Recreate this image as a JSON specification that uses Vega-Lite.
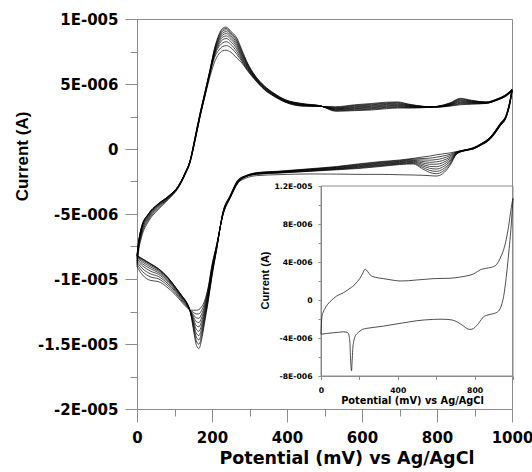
{
"$schema":"https://vega.github.io/schema/vega-lite/v6.json",
"width":375,"height":390,
"autosize":{"type":"none"},
"padding":{"left":137,"top":19,"right":20,"bottom":63},
"background":"white",
"config":{"view":{"stroke":"#8c8c8c","strokeWidth":1},"axis":{"domainColor":"#8c8c8c","tickColor":"#8c8c8c","labelColor":"#000","titleColor":"#000","grid":false,"labelOverlap":false,"labelFlush":false,"labelBound":false}},
"datasets":{
"cv":[
{"c":1,"b":"f","E":0,"I":-9.05},{"c":2,"b":"f","E":0,"I":-8.87},{"c":3,"b":"f","E":0,"I":-8.71},{"c":4,"b":"f","E":0,"I":-8.58},{"c":5,"b":"f","E":0,"I":-8.46},{"c":6,"b":"f","E":0,"I":-8.37},{"c":7,"b":"f","E":0,"I":-8.29},{"c":8,"b":"f","E":0,"I":-8.24},{"c":9,"b":"f","E":0,"I":-8.21},{"c":10,"b":"f","E":0,"I":-8.2},
{"c":1,"b":"f","E":4,"I":-7.9},{"c":2,"b":"f","E":4,"I":-7.75},{"c":3,"b":"f","E":4,"I":-7.62},{"c":4,"b":"f","E":4,"I":-7.51},{"c":5,"b":"f","E":4,"I":-7.42},{"c":6,"b":"f","E":4,"I":-7.34},{"c":7,"b":"f","E":4,"I":-7.28},{"c":8,"b":"f","E":4,"I":-7.23},{"c":9,"b":"f","E":4,"I":-7.21},{"c":10,"b":"f","E":4,"I":-7.2},
{"c":1,"b":"f","E":12,"I":-6.8},{"c":2,"b":"f","E":12,"I":-6.63},{"c":3,"b":"f","E":12,"I":-6.48},{"c":4,"b":"f","E":12,"I":-6.36},{"c":5,"b":"f","E":12,"I":-6.25},{"c":6,"b":"f","E":12,"I":-6.16},{"c":7,"b":"f","E":12,"I":-6.09},{"c":8,"b":"f","E":12,"I":-6.04},{"c":9,"b":"f","E":12,"I":-6.01},{"c":10,"b":"f","E":12,"I":-6.0},
{"c":1,"b":"f","E":30,"I":-5.6},{"c":2,"b":"f","E":30,"I":-5.47},{"c":3,"b":"f","E":30,"I":-5.36},{"c":4,"b":"f","E":30,"I":-5.27},{"c":5,"b":"f","E":30,"I":-5.19},{"c":6,"b":"f","E":30,"I":-5.12},{"c":7,"b":"f","E":30,"I":-5.07},{"c":8,"b":"f","E":30,"I":-5.03},{"c":9,"b":"f","E":30,"I":-5.01},{"c":10,"b":"f","E":30,"I":-5.0},
{"c":1,"b":"f","E":55,"I":-4.7},{"c":2,"b":"f","E":55,"I":-4.61},{"c":3,"b":"f","E":55,"I":-4.52},{"c":4,"b":"f","E":55,"I":-4.45},{"c":5,"b":"f","E":55,"I":-4.39},{"c":6,"b":"f","E":55,"I":-4.34},{"c":7,"b":"f","E":55,"I":-4.3},{"c":8,"b":"f","E":55,"I":-4.27},{"c":9,"b":"f","E":55,"I":-4.26},{"c":10,"b":"f","E":55,"I":-4.25},
{"c":1,"b":"f","E":83,"I":-3.9},{"c":2,"b":"f","E":83,"I":-3.85},{"c":3,"b":"f","E":83,"I":-3.8},{"c":4,"b":"f","E":83,"I":-3.76},{"c":5,"b":"f","E":83,"I":-3.73},{"c":6,"b":"f","E":83,"I":-3.7},{"c":7,"b":"f","E":83,"I":-3.68},{"c":8,"b":"f","E":83,"I":-3.66},{"c":9,"b":"f","E":83,"I":-3.65},{"c":10,"b":"f","E":83,"I":-3.65},
{"c":1,"b":"f","E":110,"I":-3.0},{"c":2,"b":"f","E":110,"I":-2.97},{"c":3,"b":"f","E":110,"I":-2.94},{"c":4,"b":"f","E":110,"I":-2.92},{"c":5,"b":"f","E":110,"I":-2.9},{"c":6,"b":"f","E":110,"I":-2.88},{"c":7,"b":"f","E":110,"I":-2.87},{"c":8,"b":"f","E":110,"I":-2.86},{"c":9,"b":"f","E":110,"I":-2.85},{"c":10,"b":"f","E":110,"I":-2.85},
{"c":1,"b":"f","E":128,"I":-2.0},{"c":2,"b":"f","E":128,"I":-1.97},{"c":3,"b":"f","E":128,"I":-1.94},{"c":4,"b":"f","E":128,"I":-1.92},{"c":5,"b":"f","E":128,"I":-1.9},{"c":6,"b":"f","E":128,"I":-1.88},{"c":7,"b":"f","E":128,"I":-1.87},{"c":8,"b":"f","E":128,"I":-1.86},{"c":9,"b":"f","E":128,"I":-1.85},{"c":10,"b":"f","E":128,"I":-1.85},
{"c":1,"b":"f","E":141,"I":-1.1},{"c":2,"b":"f","E":141,"I":-1.07},{"c":3,"b":"f","E":141,"I":-1.04},{"c":4,"b":"f","E":141,"I":-1.02},{"c":5,"b":"f","E":141,"I":-1.0},{"c":6,"b":"f","E":141,"I":-0.98},{"c":7,"b":"f","E":141,"I":-0.97},{"c":8,"b":"f","E":141,"I":-0.96},{"c":9,"b":"f","E":141,"I":-0.95},{"c":10,"b":"f","E":141,"I":-0.95},
{"c":1,"b":"f","E":155,"I":0.65},{"c":2,"b":"f","E":155,"I":0.68},{"c":3,"b":"f","E":155,"I":0.72},{"c":4,"b":"f","E":155,"I":0.75},{"c":5,"b":"f","E":155,"I":0.78},{"c":6,"b":"f","E":155,"I":0.82},{"c":7,"b":"f","E":155,"I":0.85},{"c":8,"b":"f","E":155,"I":0.88},{"c":9,"b":"f","E":155,"I":0.92},{"c":10,"b":"f","E":155,"I":0.95},
{"c":1,"b":"f","E":168,"I":2.45},{"c":2,"b":"f","E":168,"I":2.48},{"c":3,"b":"f","E":168,"I":2.52},{"c":4,"b":"f","E":168,"I":2.55},{"c":5,"b":"f","E":168,"I":2.58},{"c":6,"b":"f","E":168,"I":2.62},{"c":7,"b":"f","E":168,"I":2.65},{"c":8,"b":"f","E":168,"I":2.68},{"c":9,"b":"f","E":168,"I":2.72},{"c":10,"b":"f","E":168,"I":2.75},
{"c":1,"b":"f","E":182,"I":4.15},{"c":2,"b":"f","E":182,"I":4.19},{"c":3,"b":"f","E":182,"I":4.23},{"c":4,"b":"f","E":182,"I":4.27},{"c":5,"b":"f","E":182,"I":4.31},{"c":6,"b":"f","E":182,"I":4.34},{"c":7,"b":"f","E":182,"I":4.38},{"c":8,"b":"f","E":182,"I":4.42},{"c":9,"b":"f","E":182,"I":4.46},{"c":10,"b":"f","E":182,"I":4.5},
{"c":1,"b":"f","E":195,"I":5.6},{"c":2,"b":"f","E":195,"I":5.84},{"c":3,"b":"f","E":195,"I":5.88},{"c":4,"b":"f","E":195,"I":5.92},{"c":5,"b":"f","E":195,"I":5.96},{"c":6,"b":"f","E":195,"I":5.99},{"c":7,"b":"f","E":195,"I":6.03},{"c":8,"b":"f","E":195,"I":6.07},{"c":9,"b":"f","E":195,"I":6.11},{"c":10,"b":"f","E":195,"I":6.15},
{"c":1,"b":"f","E":207,"I":6.7},{"c":2,"b":"f","E":207,"I":7.05},{"c":3,"b":"f","E":207,"I":7.2},{"c":4,"b":"f","E":207,"I":7.3},{"c":5,"b":"f","E":207,"I":7.4},{"c":6,"b":"f","E":207,"I":7.47},{"c":7,"b":"f","E":207,"I":7.55},{"c":8,"b":"f","E":207,"I":7.62},{"c":9,"b":"f","E":207,"I":7.7},{"c":10,"b":"f","E":207,"I":7.78},
{"c":1,"b":"f","E":218,"I":7.3},{"c":2,"b":"f","E":218,"I":7.6},{"c":3,"b":"f","E":218,"I":7.85},{"c":4,"b":"f","E":218,"I":8.0},{"c":5,"b":"f","E":218,"I":8.15},{"c":6,"b":"f","E":218,"I":8.3},{"c":7,"b":"f","E":218,"I":8.42},{"c":8,"b":"f","E":218,"I":8.54},{"c":9,"b":"f","E":218,"I":8.66},{"c":10,"b":"f","E":218,"I":8.78},
{"c":1,"b":"f","E":228,"I":7.55},{"c":2,"b":"f","E":228,"I":7.88},{"c":3,"b":"f","E":228,"I":8.15},{"c":4,"b":"f","E":228,"I":8.4},{"c":5,"b":"f","E":228,"I":8.6},{"c":6,"b":"f","E":228,"I":8.77},{"c":7,"b":"f","E":228,"I":8.92},{"c":8,"b":"f","E":228,"I":9.06},{"c":9,"b":"f","E":228,"I":9.18},{"c":10,"b":"f","E":228,"I":9.28},
{"c":1,"b":"f","E":238,"I":7.6},{"c":2,"b":"f","E":238,"I":7.95},{"c":3,"b":"f","E":238,"I":8.25},{"c":4,"b":"f","E":238,"I":8.5},{"c":5,"b":"f","E":238,"I":8.7},{"c":6,"b":"f","E":238,"I":8.88},{"c":7,"b":"f","E":238,"I":9.03},{"c":8,"b":"f","E":238,"I":9.17},{"c":9,"b":"f","E":238,"I":9.28},{"c":10,"b":"f","E":238,"I":9.38},
{"c":1,"b":"f","E":250,"I":7.45},{"c":2,"b":"f","E":250,"I":7.8},{"c":3,"b":"f","E":250,"I":8.05},{"c":4,"b":"f","E":250,"I":8.27},{"c":5,"b":"f","E":250,"I":8.45},{"c":6,"b":"f","E":250,"I":8.6},{"c":7,"b":"f","E":250,"I":8.73},{"c":8,"b":"f","E":250,"I":8.85},{"c":9,"b":"f","E":250,"I":8.95},{"c":10,"b":"f","E":250,"I":9.05},
{"c":1,"b":"f","E":266,"I":7.0},{"c":2,"b":"f","E":266,"I":7.3},{"c":3,"b":"f","E":266,"I":7.5},{"c":4,"b":"f","E":266,"I":7.7},{"c":5,"b":"f","E":266,"I":7.87},{"c":6,"b":"f","E":266,"I":8.02},{"c":7,"b":"f","E":266,"I":8.16},{"c":8,"b":"f","E":266,"I":8.3},{"c":9,"b":"f","E":266,"I":8.42},{"c":10,"b":"f","E":266,"I":8.55},
{"c":1,"b":"f","E":280,"I":6.6},{"c":2,"b":"f","E":280,"I":6.71},{"c":3,"b":"f","E":280,"I":6.82},{"c":4,"b":"f","E":280,"I":6.93},{"c":5,"b":"f","E":280,"I":7.04},{"c":6,"b":"f","E":280,"I":7.16},{"c":7,"b":"f","E":280,"I":7.27},{"c":8,"b":"f","E":280,"I":7.38},{"c":9,"b":"f","E":280,"I":7.49},{"c":10,"b":"f","E":280,"I":7.6},
{"c":1,"b":"f","E":295,"I":6.0},{"c":2,"b":"f","E":295,"I":6.07},{"c":3,"b":"f","E":295,"I":6.13},{"c":4,"b":"f","E":295,"I":6.2},{"c":5,"b":"f","E":295,"I":6.27},{"c":6,"b":"f","E":295,"I":6.33},{"c":7,"b":"f","E":295,"I":6.4},{"c":8,"b":"f","E":295,"I":6.47},{"c":9,"b":"f","E":295,"I":6.53},{"c":10,"b":"f","E":295,"I":6.6},
{"c":1,"b":"f","E":315,"I":5.3},{"c":2,"b":"f","E":315,"I":5.34},{"c":3,"b":"f","E":315,"I":5.38},{"c":4,"b":"f","E":315,"I":5.42},{"c":5,"b":"f","E":315,"I":5.46},{"c":6,"b":"f","E":315,"I":5.49},{"c":7,"b":"f","E":315,"I":5.53},{"c":8,"b":"f","E":315,"I":5.57},{"c":9,"b":"f","E":315,"I":5.61},{"c":10,"b":"f","E":315,"I":5.65},
{"c":1,"b":"f","E":340,"I":4.55},{"c":2,"b":"f","E":340,"I":4.58},{"c":3,"b":"f","E":340,"I":4.62},{"c":4,"b":"f","E":340,"I":4.65},{"c":5,"b":"f","E":340,"I":4.68},{"c":6,"b":"f","E":340,"I":4.72},{"c":7,"b":"f","E":340,"I":4.75},{"c":8,"b":"f","E":340,"I":4.78},{"c":9,"b":"f","E":340,"I":4.82},{"c":10,"b":"f","E":340,"I":4.85},
{"c":1,"b":"f","E":365,"I":4.05},{"c":2,"b":"f","E":365,"I":4.08},{"c":3,"b":"f","E":365,"I":4.11},{"c":4,"b":"f","E":365,"I":4.13},{"c":5,"b":"f","E":365,"I":4.16},{"c":6,"b":"f","E":365,"I":4.19},{"c":7,"b":"f","E":365,"I":4.22},{"c":8,"b":"f","E":365,"I":4.24},{"c":9,"b":"f","E":365,"I":4.27},{"c":10,"b":"f","E":365,"I":4.3},
{"c":1,"b":"f","E":395,"I":3.6},{"c":2,"b":"f","E":395,"I":3.62},{"c":3,"b":"f","E":395,"I":3.64},{"c":4,"b":"f","E":395,"I":3.67},{"c":5,"b":"f","E":395,"I":3.69},{"c":6,"b":"f","E":395,"I":3.71},{"c":7,"b":"f","E":395,"I":3.73},{"c":8,"b":"f","E":395,"I":3.76},{"c":9,"b":"f","E":395,"I":3.78},{"c":10,"b":"f","E":395,"I":3.8},
{"c":1,"b":"f","E":440,"I":3.3},{"c":2,"b":"f","E":440,"I":3.32},{"c":3,"b":"f","E":440,"I":3.34},{"c":4,"b":"f","E":440,"I":3.37},{"c":5,"b":"f","E":440,"I":3.39},{"c":6,"b":"f","E":440,"I":3.41},{"c":7,"b":"f","E":440,"I":3.43},{"c":8,"b":"f","E":440,"I":3.46},{"c":9,"b":"f","E":440,"I":3.48},{"c":10,"b":"f","E":440,"I":3.5},
{"c":1,"b":"f","E":490,"I":3.27},{"c":2,"b":"f","E":490,"I":3.28},{"c":3,"b":"f","E":490,"I":3.28},{"c":4,"b":"f","E":490,"I":3.29},{"c":5,"b":"f","E":490,"I":3.29},{"c":6,"b":"f","E":490,"I":3.3},{"c":7,"b":"f","E":490,"I":3.3},{"c":8,"b":"f","E":490,"I":3.31},{"c":9,"b":"f","E":490,"I":3.31},{"c":10,"b":"f","E":490,"I":3.32},
{"c":1,"b":"f","E":530,"I":3.25},{"c":2,"b":"f","E":530,"I":3.21},{"c":3,"b":"f","E":530,"I":3.17},{"c":4,"b":"f","E":530,"I":3.13},{"c":5,"b":"f","E":530,"I":3.09},{"c":6,"b":"f","E":530,"I":3.06},{"c":7,"b":"f","E":530,"I":3.02},{"c":8,"b":"f","E":530,"I":2.98},{"c":9,"b":"f","E":530,"I":2.94},{"c":10,"b":"f","E":530,"I":2.9},
{"c":1,"b":"f","E":580,"I":3.4},{"c":2,"b":"f","E":580,"I":3.35},{"c":3,"b":"f","E":580,"I":3.3},{"c":4,"b":"f","E":580,"I":3.25},{"c":5,"b":"f","E":580,"I":3.2},{"c":6,"b":"f","E":580,"I":3.15},{"c":7,"b":"f","E":580,"I":3.1},{"c":8,"b":"f","E":580,"I":3.05},{"c":9,"b":"f","E":580,"I":3.0},{"c":10,"b":"f","E":580,"I":2.95},
{"c":1,"b":"f","E":625,"I":3.5},{"c":2,"b":"f","E":625,"I":3.44},{"c":3,"b":"f","E":625,"I":3.39},{"c":4,"b":"f","E":625,"I":3.33},{"c":5,"b":"f","E":625,"I":3.28},{"c":6,"b":"f","E":625,"I":3.22},{"c":7,"b":"f","E":625,"I":3.17},{"c":8,"b":"f","E":625,"I":3.11},{"c":9,"b":"f","E":625,"I":3.06},{"c":10,"b":"f","E":625,"I":3.0},
{"c":1,"b":"f","E":665,"I":3.6},{"c":2,"b":"f","E":665,"I":3.54},{"c":3,"b":"f","E":665,"I":3.49},{"c":4,"b":"f","E":665,"I":3.43},{"c":5,"b":"f","E":665,"I":3.38},{"c":6,"b":"f","E":665,"I":3.32},{"c":7,"b":"f","E":665,"I":3.27},{"c":8,"b":"f","E":665,"I":3.21},{"c":9,"b":"f","E":665,"I":3.16},{"c":10,"b":"f","E":665,"I":3.1},
{"c":1,"b":"f","E":695,"I":3.62},{"c":2,"b":"f","E":695,"I":3.57},{"c":3,"b":"f","E":695,"I":3.52},{"c":4,"b":"f","E":695,"I":3.46},{"c":5,"b":"f","E":695,"I":3.41},{"c":6,"b":"f","E":695,"I":3.36},{"c":7,"b":"f","E":695,"I":3.31},{"c":8,"b":"f","E":695,"I":3.26},{"c":9,"b":"f","E":695,"I":3.2},{"c":10,"b":"f","E":695,"I":3.15},
{"c":1,"b":"f","E":725,"I":3.45},{"c":2,"b":"f","E":725,"I":3.42},{"c":3,"b":"f","E":725,"I":3.38},{"c":4,"b":"f","E":725,"I":3.35},{"c":5,"b":"f","E":725,"I":3.32},{"c":6,"b":"f","E":725,"I":3.28},{"c":7,"b":"f","E":725,"I":3.25},{"c":8,"b":"f","E":725,"I":3.22},{"c":9,"b":"f","E":725,"I":3.18},{"c":10,"b":"f","E":725,"I":3.15},
{"c":1,"b":"f","E":765,"I":3.28},{"c":2,"b":"f","E":765,"I":3.27},{"c":3,"b":"f","E":765,"I":3.26},{"c":4,"b":"f","E":765,"I":3.25},{"c":5,"b":"f","E":765,"I":3.24},{"c":6,"b":"f","E":765,"I":3.22},{"c":7,"b":"f","E":765,"I":3.21},{"c":8,"b":"f","E":765,"I":3.2},{"c":9,"b":"f","E":765,"I":3.19},{"c":10,"b":"f","E":765,"I":3.18},
{"c":1,"b":"f","E":800,"I":3.22},{"c":2,"b":"f","E":800,"I":3.23},{"c":3,"b":"f","E":800,"I":3.23},{"c":4,"b":"f","E":800,"I":3.24},{"c":5,"b":"f","E":800,"I":3.25},{"c":6,"b":"f","E":800,"I":3.25},{"c":7,"b":"f","E":800,"I":3.26},{"c":8,"b":"f","E":800,"I":3.27},{"c":9,"b":"f","E":800,"I":3.27},{"c":10,"b":"f","E":800,"I":3.28},
{"c":1,"b":"f","E":835,"I":3.3},{"c":2,"b":"f","E":835,"I":3.33},{"c":3,"b":"f","E":835,"I":3.36},{"c":4,"b":"f","E":835,"I":3.38},{"c":5,"b":"f","E":835,"I":3.41},{"c":6,"b":"f","E":835,"I":3.44},{"c":7,"b":"f","E":835,"I":3.47},{"c":8,"b":"f","E":835,"I":3.49},{"c":9,"b":"f","E":835,"I":3.52},{"c":10,"b":"f","E":835,"I":3.55},
{"c":1,"b":"f","E":862,"I":3.4},{"c":2,"b":"f","E":862,"I":3.46},{"c":3,"b":"f","E":862,"I":3.51},{"c":4,"b":"f","E":862,"I":3.57},{"c":5,"b":"f","E":862,"I":3.62},{"c":6,"b":"f","E":862,"I":3.68},{"c":7,"b":"f","E":862,"I":3.73},{"c":8,"b":"f","E":862,"I":3.79},{"c":9,"b":"f","E":862,"I":3.84},{"c":10,"b":"f","E":862,"I":3.9},
{"c":1,"b":"f","E":892,"I":3.45},{"c":2,"b":"f","E":892,"I":3.48},{"c":3,"b":"f","E":892,"I":3.52},{"c":4,"b":"f","E":892,"I":3.55},{"c":5,"b":"f","E":892,"I":3.58},{"c":6,"b":"f","E":892,"I":3.62},{"c":7,"b":"f","E":892,"I":3.65},{"c":8,"b":"f","E":892,"I":3.68},{"c":9,"b":"f","E":892,"I":3.72},{"c":10,"b":"f","E":892,"I":3.75},
{"c":1,"b":"f","E":930,"I":3.5},{"c":2,"b":"f","E":930,"I":3.51},{"c":3,"b":"f","E":930,"I":3.53},{"c":4,"b":"f","E":930,"I":3.54},{"c":5,"b":"f","E":930,"I":3.55},{"c":6,"b":"f","E":930,"I":3.57},{"c":7,"b":"f","E":930,"I":3.58},{"c":8,"b":"f","E":930,"I":3.59},{"c":9,"b":"f","E":930,"I":3.61},{"c":10,"b":"f","E":930,"I":3.62},
{"c":1,"b":"f","E":960,"I":3.75},{"c":2,"b":"f","E":960,"I":3.76},{"c":3,"b":"f","E":960,"I":3.77},{"c":4,"b":"f","E":960,"I":3.78},{"c":5,"b":"f","E":960,"I":3.79},{"c":6,"b":"f","E":960,"I":3.81},{"c":7,"b":"f","E":960,"I":3.82},{"c":8,"b":"f","E":960,"I":3.83},{"c":9,"b":"f","E":960,"I":3.84},{"c":10,"b":"f","E":960,"I":3.85},
{"c":1,"b":"f","E":985,"I":4.08},{"c":2,"b":"f","E":985,"I":4.1},{"c":3,"b":"f","E":985,"I":4.11},{"c":4,"b":"f","E":985,"I":4.13},{"c":5,"b":"f","E":985,"I":4.14},{"c":6,"b":"f","E":985,"I":4.16},{"c":7,"b":"f","E":985,"I":4.17},{"c":8,"b":"f","E":985,"I":4.19},{"c":9,"b":"f","E":985,"I":4.2},{"c":10,"b":"f","E":985,"I":4.22},
{"c":1,"b":"f","E":1000,"I":4.42},{"c":2,"b":"f","E":1000,"I":4.44},{"c":3,"b":"f","E":1000,"I":4.46},{"c":4,"b":"f","E":1000,"I":4.48},{"c":5,"b":"f","E":1000,"I":4.5},{"c":6,"b":"f","E":1000,"I":4.52},{"c":7,"b":"f","E":1000,"I":4.54},{"c":8,"b":"f","E":1000,"I":4.56},{"c":9,"b":"f","E":1000,"I":4.58},{"c":10,"b":"f","E":1000,"I":4.6},
{"c":1,"b":"r","E":1000,"I":4.42},{"c":2,"b":"r","E":1000,"I":4.44},{"c":3,"b":"r","E":1000,"I":4.46},{"c":4,"b":"r","E":1000,"I":4.48},{"c":5,"b":"r","E":1000,"I":4.5},{"c":6,"b":"r","E":1000,"I":4.52},{"c":7,"b":"r","E":1000,"I":4.54},{"c":8,"b":"r","E":1000,"I":4.56},{"c":9,"b":"r","E":1000,"I":4.58},{"c":10,"b":"r","E":1000,"I":4.6},
{"c":1,"b":"r","E":995,"I":3.55},{"c":2,"b":"r","E":995,"I":3.58},{"c":3,"b":"r","E":995,"I":3.61},{"c":4,"b":"r","E":995,"I":3.63},{"c":5,"b":"r","E":995,"I":3.66},{"c":6,"b":"r","E":995,"I":3.69},{"c":7,"b":"r","E":995,"I":3.72},{"c":8,"b":"r","E":995,"I":3.74},{"c":9,"b":"r","E":995,"I":3.77},{"c":10,"b":"r","E":995,"I":3.8},
{"c":1,"b":"r","E":986,"I":2.55},{"c":2,"b":"r","E":986,"I":2.57},{"c":3,"b":"r","E":986,"I":2.59},{"c":4,"b":"r","E":986,"I":2.62},{"c":5,"b":"r","E":986,"I":2.64},{"c":6,"b":"r","E":986,"I":2.66},{"c":7,"b":"r","E":986,"I":2.68},{"c":8,"b":"r","E":986,"I":2.71},{"c":9,"b":"r","E":986,"I":2.73},{"c":10,"b":"r","E":986,"I":2.75},
{"c":1,"b":"r","E":968,"I":1.75},{"c":2,"b":"r","E":968,"I":1.77},{"c":3,"b":"r","E":968,"I":1.79},{"c":4,"b":"r","E":968,"I":1.82},{"c":5,"b":"r","E":968,"I":1.84},{"c":6,"b":"r","E":968,"I":1.86},{"c":7,"b":"r","E":968,"I":1.88},{"c":8,"b":"r","E":968,"I":1.91},{"c":9,"b":"r","E":968,"I":1.93},{"c":10,"b":"r","E":968,"I":1.95},
{"c":1,"b":"r","E":941,"I":0.72},{"c":2,"b":"r","E":941,"I":0.74},{"c":3,"b":"r","E":941,"I":0.76},{"c":4,"b":"r","E":941,"I":0.78},{"c":5,"b":"r","E":941,"I":0.8},{"c":6,"b":"r","E":941,"I":0.82},{"c":7,"b":"r","E":941,"I":0.84},{"c":8,"b":"r","E":941,"I":0.86},{"c":9,"b":"r","E":941,"I":0.88},{"c":10,"b":"r","E":941,"I":0.9},
{"c":1,"b":"r","E":918,"I":0.3},{"c":2,"b":"r","E":918,"I":0.31},{"c":3,"b":"r","E":918,"I":0.33},{"c":4,"b":"r","E":918,"I":0.34},{"c":5,"b":"r","E":918,"I":0.35},{"c":6,"b":"r","E":918,"I":0.37},{"c":7,"b":"r","E":918,"I":0.38},{"c":8,"b":"r","E":918,"I":0.39},{"c":9,"b":"r","E":918,"I":0.41},{"c":10,"b":"r","E":918,"I":0.42},
{"c":1,"b":"r","E":897,"I":0.0},{"c":2,"b":"r","E":897,"I":0.01},{"c":3,"b":"r","E":897,"I":0.02},{"c":4,"b":"r","E":897,"I":0.03},{"c":5,"b":"r","E":897,"I":0.04},{"c":6,"b":"r","E":897,"I":0.06},{"c":7,"b":"r","E":897,"I":0.07},{"c":8,"b":"r","E":897,"I":0.08},{"c":9,"b":"r","E":897,"I":0.09},{"c":10,"b":"r","E":897,"I":0.1},
{"c":1,"b":"r","E":872,"I":-0.15},{"c":2,"b":"r","E":872,"I":-0.14},{"c":3,"b":"r","E":872,"I":-0.13},{"c":4,"b":"r","E":872,"I":-0.13},{"c":5,"b":"r","E":872,"I":-0.12},{"c":6,"b":"r","E":872,"I":-0.11},{"c":7,"b":"r","E":872,"I":-0.1},{"c":8,"b":"r","E":872,"I":-0.1},{"c":9,"b":"r","E":872,"I":-0.09},{"c":10,"b":"r","E":872,"I":-0.08},
{"c":1,"b":"r","E":852,"I":-0.4},{"c":2,"b":"r","E":852,"I":-0.38},{"c":3,"b":"r","E":852,"I":-0.36},{"c":4,"b":"r","E":852,"I":-0.33},{"c":5,"b":"r","E":852,"I":-0.31},{"c":6,"b":"r","E":852,"I":-0.29},{"c":7,"b":"r","E":852,"I":-0.27},{"c":8,"b":"r","E":852,"I":-0.24},{"c":9,"b":"r","E":852,"I":-0.22},{"c":10,"b":"r","E":852,"I":-0.2},
{"c":1,"b":"r","E":835,"I":-1.25},{"c":2,"b":"r","E":835,"I":-1.14},{"c":3,"b":"r","E":835,"I":-1.04},{"c":4,"b":"r","E":835,"I":-0.93},{"c":5,"b":"r","E":835,"I":-0.83},{"c":6,"b":"r","E":835,"I":-0.72},{"c":7,"b":"r","E":835,"I":-0.62},{"c":8,"b":"r","E":835,"I":-0.51},{"c":9,"b":"r","E":835,"I":-0.41},{"c":10,"b":"r","E":835,"I":-0.3},
{"c":1,"b":"r","E":815,"I":-1.9},{"c":2,"b":"r","E":815,"I":-1.73},{"c":3,"b":"r","E":815,"I":-1.56},{"c":4,"b":"r","E":815,"I":-1.39},{"c":5,"b":"r","E":815,"I":-1.22},{"c":6,"b":"r","E":815,"I":-1.06},{"c":7,"b":"r","E":815,"I":-0.89},{"c":8,"b":"r","E":815,"I":-0.72},{"c":9,"b":"r","E":815,"I":-0.55},{"c":10,"b":"r","E":815,"I":-0.38},
{"c":1,"b":"r","E":798,"I":-2.08},{"c":2,"b":"r","E":798,"I":-1.9},{"c":3,"b":"r","E":798,"I":-1.72},{"c":4,"b":"r","E":798,"I":-1.54},{"c":5,"b":"r","E":798,"I":-1.36},{"c":6,"b":"r","E":798,"I":-1.17},{"c":7,"b":"r","E":798,"I":-0.99},{"c":8,"b":"r","E":798,"I":-0.81},{"c":9,"b":"r","E":798,"I":-0.63},{"c":10,"b":"r","E":798,"I":-0.45},
{"c":1,"b":"r","E":780,"I":-2.05},{"c":2,"b":"r","E":780,"I":-1.8},{"c":3,"b":"r","E":780,"I":-1.64},{"c":4,"b":"r","E":780,"I":-1.48},{"c":5,"b":"r","E":780,"I":-1.33},{"c":6,"b":"r","E":780,"I":-1.17},{"c":7,"b":"r","E":780,"I":-1.02},{"c":8,"b":"r","E":780,"I":-0.86},{"c":9,"b":"r","E":780,"I":-0.71},{"c":10,"b":"r","E":780,"I":-0.55},
{"c":1,"b":"r","E":760,"I":-2.02},{"c":2,"b":"r","E":760,"I":-1.5},{"c":3,"b":"r","E":760,"I":-1.39},{"c":4,"b":"r","E":760,"I":-1.28},{"c":5,"b":"r","E":760,"I":-1.17},{"c":6,"b":"r","E":760,"I":-1.06},{"c":7,"b":"r","E":760,"I":-0.95},{"c":8,"b":"r","E":760,"I":-0.84},{"c":9,"b":"r","E":760,"I":-0.73},{"c":10,"b":"r","E":760,"I":-0.62},
{"c":1,"b":"r","E":737,"I":-2.0},{"c":2,"b":"r","E":737,"I":-1.15},{"c":3,"b":"r","E":737,"I":-1.1},{"c":4,"b":"r","E":737,"I":-1.04},{"c":5,"b":"r","E":737,"I":-0.99},{"c":6,"b":"r","E":737,"I":-0.94},{"c":7,"b":"r","E":737,"I":-0.88},{"c":8,"b":"r","E":737,"I":-0.83},{"c":9,"b":"r","E":737,"I":-0.77},{"c":10,"b":"r","E":737,"I":-0.72},
{"c":1,"b":"r","E":700,"I":-1.98},{"c":2,"b":"r","E":700,"I":-1.2},{"c":3,"b":"r","E":700,"I":-1.16},{"c":4,"b":"r","E":700,"I":-1.11},{"c":5,"b":"r","E":700,"I":-1.07},{"c":6,"b":"r","E":700,"I":-1.03},{"c":7,"b":"r","E":700,"I":-0.98},{"c":8,"b":"r","E":700,"I":-0.94},{"c":9,"b":"r","E":700,"I":-0.89},{"c":10,"b":"r","E":700,"I":-0.85},
{"c":1,"b":"r","E":648,"I":-1.95},{"c":2,"b":"r","E":648,"I":-1.35},{"c":3,"b":"r","E":648,"I":-1.3},{"c":4,"b":"r","E":648,"I":-1.26},{"c":5,"b":"r","E":648,"I":-1.21},{"c":6,"b":"r","E":648,"I":-1.16},{"c":7,"b":"r","E":648,"I":-1.11},{"c":8,"b":"r","E":648,"I":-1.07},{"c":9,"b":"r","E":648,"I":-1.02},{"c":10,"b":"r","E":648,"I":-0.97},
{"c":1,"b":"r","E":590,"I":-1.95},{"c":2,"b":"r","E":590,"I":-1.5},{"c":3,"b":"r","E":590,"I":-1.46},{"c":4,"b":"r","E":590,"I":-1.41},{"c":5,"b":"r","E":590,"I":-1.37},{"c":6,"b":"r","E":590,"I":-1.33},{"c":7,"b":"r","E":590,"I":-1.28},{"c":8,"b":"r","E":590,"I":-1.24},{"c":9,"b":"r","E":590,"I":-1.19},{"c":10,"b":"r","E":590,"I":-1.15},
{"c":1,"b":"r","E":532,"I":-1.93},{"c":2,"b":"r","E":532,"I":-1.6},{"c":3,"b":"r","E":532,"I":-1.57},{"c":4,"b":"r","E":532,"I":-1.54},{"c":5,"b":"r","E":532,"I":-1.51},{"c":6,"b":"r","E":532,"I":-1.48},{"c":7,"b":"r","E":532,"I":-1.44},{"c":8,"b":"r","E":532,"I":-1.41},{"c":9,"b":"r","E":532,"I":-1.38},{"c":10,"b":"r","E":532,"I":-1.35},
{"c":1,"b":"r","E":460,"I":-1.92},{"c":2,"b":"r","E":460,"I":-1.72},{"c":3,"b":"r","E":460,"I":-1.7},{"c":4,"b":"r","E":460,"I":-1.67},{"c":5,"b":"r","E":460,"I":-1.65},{"c":6,"b":"r","E":460,"I":-1.62},{"c":7,"b":"r","E":460,"I":-1.6},{"c":8,"b":"r","E":460,"I":-1.57},{"c":9,"b":"r","E":460,"I":-1.55},{"c":10,"b":"r","E":460,"I":-1.52},
{"c":1,"b":"r","E":381,"I":-1.97},{"c":2,"b":"r","E":381,"I":-1.85},{"c":3,"b":"r","E":381,"I":-1.83},{"c":4,"b":"r","E":381,"I":-1.81},{"c":5,"b":"r","E":381,"I":-1.79},{"c":6,"b":"r","E":381,"I":-1.78},{"c":7,"b":"r","E":381,"I":-1.76},{"c":8,"b":"r","E":381,"I":-1.74},{"c":9,"b":"r","E":381,"I":-1.72},{"c":10,"b":"r","E":381,"I":-1.7},
{"c":1,"b":"r","E":319,"I":-2.05},{"c":2,"b":"r","E":319,"I":-1.95},{"c":3,"b":"r","E":319,"I":-1.93},{"c":4,"b":"r","E":319,"I":-1.92},{"c":5,"b":"r","E":319,"I":-1.9},{"c":6,"b":"r","E":319,"I":-1.88},{"c":7,"b":"r","E":319,"I":-1.87},{"c":8,"b":"r","E":319,"I":-1.85},{"c":9,"b":"r","E":319,"I":-1.84},{"c":10,"b":"r","E":319,"I":-1.82},
{"c":1,"b":"r","E":290,"I":-2.25},{"c":2,"b":"r","E":290,"I":-2.15},{"c":3,"b":"r","E":290,"I":-2.14},{"c":4,"b":"r","E":290,"I":-2.13},{"c":5,"b":"r","E":290,"I":-2.11},{"c":6,"b":"r","E":290,"I":-2.1},{"c":7,"b":"r","E":290,"I":-2.09},{"c":8,"b":"r","E":290,"I":-2.08},{"c":9,"b":"r","E":290,"I":-2.06},{"c":10,"b":"r","E":290,"I":-2.05},
{"c":1,"b":"r","E":270,"I":-2.6},{"c":2,"b":"r","E":270,"I":-2.57},{"c":3,"b":"r","E":270,"I":-2.54},{"c":4,"b":"r","E":270,"I":-2.51},{"c":5,"b":"r","E":270,"I":-2.49},{"c":6,"b":"r","E":270,"I":-2.46},{"c":7,"b":"r","E":270,"I":-2.43},{"c":8,"b":"r","E":270,"I":-2.4},{"c":9,"b":"r","E":270,"I":-2.38},{"c":10,"b":"r","E":270,"I":-2.35},
{"c":1,"b":"r","E":248,"I":-3.8},{"c":2,"b":"r","E":248,"I":-3.78},{"c":3,"b":"r","E":248,"I":-3.76},{"c":4,"b":"r","E":248,"I":-3.73},{"c":5,"b":"r","E":248,"I":-3.71},{"c":6,"b":"r","E":248,"I":-3.69},{"c":7,"b":"r","E":248,"I":-3.67},{"c":8,"b":"r","E":248,"I":-3.64},{"c":9,"b":"r","E":248,"I":-3.62},{"c":10,"b":"r","E":248,"I":-3.6},
{"c":1,"b":"r","E":230,"I":-5.0},{"c":2,"b":"r","E":230,"I":-4.97},{"c":3,"b":"r","E":230,"I":-4.94},{"c":4,"b":"r","E":230,"I":-4.92},{"c":5,"b":"r","E":230,"I":-4.89},{"c":6,"b":"r","E":230,"I":-4.86},{"c":7,"b":"r","E":230,"I":-4.83},{"c":8,"b":"r","E":230,"I":-4.81},{"c":9,"b":"r","E":230,"I":-4.78},{"c":10,"b":"r","E":230,"I":-4.75},
{"c":1,"b":"r","E":212,"I":-7.4},{"c":2,"b":"r","E":212,"I":-7.44},{"c":3,"b":"r","E":212,"I":-7.49},{"c":4,"b":"r","E":212,"I":-7.53},{"c":5,"b":"r","E":212,"I":-7.58},{"c":6,"b":"r","E":212,"I":-7.62},{"c":7,"b":"r","E":212,"I":-7.67},{"c":8,"b":"r","E":212,"I":-7.71},{"c":9,"b":"r","E":212,"I":-7.76},{"c":10,"b":"r","E":212,"I":-7.8},
{"c":1,"b":"r","E":200,"I":-8.9},{"c":2,"b":"r","E":200,"I":-9.0},{"c":3,"b":"r","E":200,"I":-9.1},{"c":4,"b":"r","E":200,"I":-9.2},{"c":5,"b":"r","E":200,"I":-9.3},{"c":6,"b":"r","E":200,"I":-9.4},{"c":7,"b":"r","E":200,"I":-9.5},{"c":8,"b":"r","E":200,"I":-9.6},{"c":9,"b":"r","E":200,"I":-9.7},{"c":10,"b":"r","E":200,"I":-9.8},
{"c":1,"b":"r","E":190,"I":-10.6},{"c":2,"b":"r","E":190,"I":-10.72},{"c":3,"b":"r","E":190,"I":-10.84},{"c":4,"b":"r","E":190,"I":-10.97},{"c":5,"b":"r","E":190,"I":-11.09},{"c":6,"b":"r","E":190,"I":-11.21},{"c":7,"b":"r","E":190,"I":-11.33},{"c":8,"b":"r","E":190,"I":-11.46},{"c":9,"b":"r","E":190,"I":-11.58},{"c":10,"b":"r","E":190,"I":-11.7},
{"c":1,"b":"r","E":180,"I":-11.7},{"c":2,"b":"r","E":180,"I":-11.89},{"c":3,"b":"r","E":180,"I":-12.08},{"c":4,"b":"r","E":180,"I":-12.27},{"c":5,"b":"r","E":180,"I":-12.46},{"c":6,"b":"r","E":180,"I":-12.64},{"c":7,"b":"r","E":180,"I":-12.83},{"c":8,"b":"r","E":180,"I":-13.02},{"c":9,"b":"r","E":180,"I":-13.21},{"c":10,"b":"r","E":180,"I":-13.4},
{"c":1,"b":"r","E":172,"I":-12.15},{"c":2,"b":"r","E":172,"I":-12.43},{"c":3,"b":"r","E":172,"I":-12.72},{"c":4,"b":"r","E":172,"I":-13.0},{"c":5,"b":"r","E":172,"I":-13.28},{"c":6,"b":"r","E":172,"I":-13.57},{"c":7,"b":"r","E":172,"I":-13.85},{"c":8,"b":"r","E":172,"I":-14.13},{"c":9,"b":"r","E":172,"I":-14.42},{"c":10,"b":"r","E":172,"I":-14.7},
{"c":1,"b":"r","E":165,"I":-12.35},{"c":2,"b":"r","E":165,"I":-12.68},{"c":3,"b":"r","E":165,"I":-13.02},{"c":4,"b":"r","E":165,"I":-13.35},{"c":5,"b":"r","E":165,"I":-13.68},{"c":6,"b":"r","E":165,"I":-14.02},{"c":7,"b":"r","E":165,"I":-14.35},{"c":8,"b":"r","E":165,"I":-14.68},{"c":9,"b":"r","E":165,"I":-15.02},{"c":10,"b":"r","E":165,"I":-15.35},
{"c":1,"b":"r","E":158,"I":-12.4},{"c":2,"b":"r","E":158,"I":-12.69},{"c":3,"b":"r","E":158,"I":-12.99},{"c":4,"b":"r","E":158,"I":-13.28},{"c":5,"b":"r","E":158,"I":-13.58},{"c":6,"b":"r","E":158,"I":-13.87},{"c":7,"b":"r","E":158,"I":-14.17},{"c":8,"b":"r","E":158,"I":-14.46},{"c":9,"b":"r","E":158,"I":-14.76},{"c":10,"b":"r","E":158,"I":-15.05},
{"c":1,"b":"r","E":151,"I":-12.4},{"c":2,"b":"r","E":151,"I":-12.58},{"c":3,"b":"r","E":151,"I":-12.76},{"c":4,"b":"r","E":151,"I":-12.93},{"c":5,"b":"r","E":151,"I":-13.11},{"c":6,"b":"r","E":151,"I":-13.29},{"c":7,"b":"r","E":151,"I":-13.47},{"c":8,"b":"r","E":151,"I":-13.64},{"c":9,"b":"r","E":151,"I":-13.82},{"c":10,"b":"r","E":151,"I":-14.0},
{"c":1,"b":"r","E":145,"I":-12.4},{"c":2,"b":"r","E":145,"I":-12.46},{"c":3,"b":"r","E":145,"I":-12.52},{"c":4,"b":"r","E":145,"I":-12.58},{"c":5,"b":"r","E":145,"I":-12.64},{"c":6,"b":"r","E":145,"I":-12.71},{"c":7,"b":"r","E":145,"I":-12.77},{"c":8,"b":"r","E":145,"I":-12.83},{"c":9,"b":"r","E":145,"I":-12.89},{"c":10,"b":"r","E":145,"I":-12.95},
{"c":1,"b":"r","E":141,"I":-12.4},{"c":2,"b":"r","E":141,"I":-12.4},{"c":3,"b":"r","E":141,"I":-12.4},{"c":4,"b":"r","E":141,"I":-12.4},{"c":5,"b":"r","E":141,"I":-12.4},{"c":6,"b":"r","E":141,"I":-12.4},{"c":7,"b":"r","E":141,"I":-12.4},{"c":8,"b":"r","E":141,"I":-12.4},{"c":9,"b":"r","E":141,"I":-12.4},{"c":10,"b":"r","E":141,"I":-12.4},
{"c":1,"b":"r","E":135,"I":-12.25},{"c":2,"b":"r","E":135,"I":-12.19},{"c":3,"b":"r","E":135,"I":-12.13},{"c":4,"b":"r","E":135,"I":-12.08},{"c":5,"b":"r","E":135,"I":-12.04},{"c":6,"b":"r","E":135,"I":-12.01},{"c":7,"b":"r","E":135,"I":-11.98},{"c":8,"b":"r","E":135,"I":-11.96},{"c":9,"b":"r","E":135,"I":-11.95},{"c":10,"b":"r","E":135,"I":-11.95},
{"c":1,"b":"r","E":120,"I":-11.8},{"c":2,"b":"r","E":120,"I":-11.7},{"c":3,"b":"r","E":120,"I":-11.6},{"c":4,"b":"r","E":120,"I":-11.52},{"c":5,"b":"r","E":120,"I":-11.45},{"c":6,"b":"r","E":120,"I":-11.4},{"c":7,"b":"r","E":120,"I":-11.36},{"c":8,"b":"r","E":120,"I":-11.32},{"c":9,"b":"r","E":120,"I":-11.31},{"c":10,"b":"r","E":120,"I":-11.3},
{"c":1,"b":"r","E":102,"I":-11.2},{"c":2,"b":"r","E":102,"I":-11.07},{"c":3,"b":"r","E":102,"I":-10.96},{"c":4,"b":"r","E":102,"I":-10.87},{"c":5,"b":"r","E":102,"I":-10.79},{"c":6,"b":"r","E":102,"I":-10.72},{"c":7,"b":"r","E":102,"I":-10.67},{"c":8,"b":"r","E":102,"I":-10.63},{"c":9,"b":"r","E":102,"I":-10.61},{"c":10,"b":"r","E":102,"I":-10.6},
{"c":1,"b":"r","E":83,"I":-10.7},{"c":2,"b":"r","E":83,"I":-10.53},{"c":3,"b":"r","E":83,"I":-10.38},{"c":4,"b":"r","E":83,"I":-10.26},{"c":5,"b":"r","E":83,"I":-10.15},{"c":6,"b":"r","E":83,"I":-10.06},{"c":7,"b":"r","E":83,"I":-9.99},{"c":8,"b":"r","E":83,"I":-9.94},{"c":9,"b":"r","E":83,"I":-9.91},{"c":10,"b":"r","E":83,"I":-9.9},
{"c":1,"b":"r","E":57,"I":-10.2},{"c":2,"b":"r","E":57,"I":-9.99},{"c":3,"b":"r","E":57,"I":-9.81},{"c":4,"b":"r","E":57,"I":-9.64},{"c":5,"b":"r","E":57,"I":-9.51},{"c":6,"b":"r","E":57,"I":-9.4},{"c":7,"b":"r","E":57,"I":-9.31},{"c":8,"b":"r","E":57,"I":-9.25},{"c":9,"b":"r","E":57,"I":-9.21},{"c":10,"b":"r","E":57,"I":-9.2},
{"c":1,"b":"r","E":35,"I":-10.1},{"c":2,"b":"r","E":35,"I":-9.83},{"c":3,"b":"r","E":35,"I":-9.59},{"c":4,"b":"r","E":35,"I":-9.38},{"c":5,"b":"r","E":35,"I":-9.2},{"c":6,"b":"r","E":35,"I":-9.06},{"c":7,"b":"r","E":35,"I":-8.94},{"c":8,"b":"r","E":35,"I":-8.86},{"c":9,"b":"r","E":35,"I":-8.82},{"c":10,"b":"r","E":35,"I":-8.8},
{"c":1,"b":"r","E":15,"I":-9.7},{"c":2,"b":"r","E":15,"I":-9.44},{"c":3,"b":"r","E":15,"I":-9.21},{"c":4,"b":"r","E":15,"I":-9.0},{"c":5,"b":"r","E":15,"I":-8.84},{"c":6,"b":"r","E":15,"I":-8.7},{"c":7,"b":"r","E":15,"I":-8.59},{"c":8,"b":"r","E":15,"I":-8.51},{"c":9,"b":"r","E":15,"I":-8.47},{"c":10,"b":"r","E":15,"I":-8.45},
{"c":1,"b":"r","E":0,"I":-9.05},{"c":2,"b":"r","E":0,"I":-8.87},{"c":3,"b":"r","E":0,"I":-8.71},{"c":4,"b":"r","E":0,"I":-8.58},{"c":5,"b":"r","E":0,"I":-8.46},{"c":6,"b":"r","E":0,"I":-8.37},{"c":7,"b":"r","E":0,"I":-8.29},{"c":8,"b":"r","E":0,"I":-8.24},{"c":9,"b":"r","E":0,"I":-8.21},{"c":10,"b":"r","E":0,"I":-8.2}
],
"inset":[
{"b":"f","E":0,"I":-3.6},{"b":"f","E":2,"I":-2.6},{"b":"f","E":5,"I":-1.76},{"b":"f","E":12,"I":-1.25},{"b":"f","E":21,"I":-0.88},{"b":"f","E":35,"I":-0.45},{"b":"f","E":47,"I":-0.18},{"b":"f","E":65,"I":0.15},{"b":"f","E":82,"I":0.42},{"b":"f","E":100,"I":0.6},{"b":"f","E":117,"I":0.77},{"b":"f","E":135,"I":1.0},{"b":"f","E":151,"I":1.23},{"b":"f","E":165,"I":1.42},{"b":"f","E":177,"I":1.65},{"b":"f","E":190,"I":1.95},{"b":"f","E":203,"I":2.29},{"b":"f","E":217,"I":2.8},{"b":"f","E":230,"I":3.24},{"b":"f","E":243,"I":3.0},{"b":"f","E":256,"I":2.64},{"b":"f","E":270,"I":2.47},{"b":"f","E":282,"I":2.39},{"b":"f","E":325,"I":2.25},{"b":"f","E":370,"I":2.1},{"b":"f","E":412,"I":2.0},{"b":"f","E":455,"I":2.03},{"b":"f","E":499,"I":2.11},{"b":"f","E":545,"I":2.18},{"b":"f","E":586,"I":2.25},{"b":"f","E":630,"I":2.27},{"b":"f","E":673,"I":2.29},{"b":"f","E":720,"I":2.4},{"b":"f","E":760,"I":2.54},{"b":"f","E":795,"I":2.75},{"b":"f","E":815,"I":3.0},{"b":"f","E":829,"I":3.17},{"b":"f","E":864,"I":3.35},{"b":"f","E":899,"I":3.52},{"b":"f","E":915,"I":3.75},{"b":"f","E":925,"I":4.05},{"b":"f","E":940,"I":4.7},{"b":"f","E":951,"I":5.28},{"b":"f","E":965,"I":6.4},{"b":"f","E":977,"I":7.75},{"b":"f","E":988,"I":9.3},{"b":"f","E":995,"I":10.2},{"b":"f","E":1000,"I":10.7},
{"b":"r","E":1000,"I":10.7},{"b":"r","E":996,"I":9.5},{"b":"r","E":992,"I":8.2},{"b":"r","E":986,"I":6.7},{"b":"r","E":978,"I":5.0},{"b":"r","E":969,"I":3.17},{"b":"r","E":960,"I":1.6},{"b":"r","E":951,"I":0.35},{"b":"r","E":943,"I":-0.35},{"b":"r","E":934,"I":-0.88},{"b":"r","E":916,"I":-1.3},{"b":"r","E":900,"I":-1.42},{"b":"r","E":882,"I":-1.51},{"b":"r","E":865,"I":-1.6},{"b":"r","E":847,"I":-1.76},{"b":"r","E":835,"I":-2.05},{"b":"r","E":821,"I":-2.46},{"b":"r","E":808,"I":-2.75},{"b":"r","E":795,"I":-2.99},{"b":"r","E":777,"I":-3.1},{"b":"r","E":760,"I":-3.0},{"b":"r","E":743,"I":-2.75},{"b":"r","E":725,"I":-2.5},{"b":"r","E":708,"I":-2.29},{"b":"r","E":685,"I":-2.12},{"b":"r","E":656,"I":-2.04},{"b":"r","E":620,"I":-2.02},{"b":"r","E":586,"I":-2.04},{"b":"r","E":540,"I":-2.1},{"b":"r","E":499,"I":-2.18},{"b":"r","E":455,"I":-2.32},{"b":"r","E":412,"I":-2.46},{"b":"r","E":370,"I":-2.6},{"b":"r","E":325,"I":-2.75},{"b":"r","E":280,"I":-2.87},{"b":"r","E":238,"I":-2.99},{"b":"r","E":215,"I":-3.1},{"b":"r","E":203,"I":-3.27},{"b":"r","E":190,"I":-3.5},{"b":"r","E":177,"I":-3.87},{"b":"r","E":170,"I":-4.4},{"b":"r","E":165,"I":-5.28},{"b":"r","E":162,"I":-6.5},{"b":"r","E":159,"I":-7.45},{"b":"r","E":156,"I":-6.9},{"b":"r","E":153,"I":-5.8},{"b":"r","E":151,"I":-4.58},{"b":"r","E":147,"I":-3.9},{"b":"r","E":143,"I":-3.52},{"b":"r","E":130,"I":-3.38},{"b":"r","E":117,"I":-3.35},{"b":"r","E":90,"I":-3.4},{"b":"r","E":64,"I":-3.45},{"b":"r","E":30,"I":-3.52},{"b":"r","E":0,"I":-3.6}
]
},
"layer":[
{"data":{"name":"cv"},
 "mark":{"type":"line","interpolate":"monotone","stroke":"#000","strokeWidth":0.7},
 "encoding":{
  "x":{"field":"E","type":"quantitative","scale":{"domain":[0,1000],"nice":false,"zero":false},
   "axis":{"values":[0,100,200,300,400,500,600,700,800,900,1000],"format":"d",
    "labelExpr":"datum.value % 200 === 0 ? datum.label : ''",
    "tickSize":{"condition":{"test":"datum.value % 200 === 0","value":13},"value":7},
    "labelPadding":8,"labelFont":"DejaVu Sans","labelFontWeight":"bold","labelFontSize":15,
    "title":"Potential (mV) vs Ag/AgCl","titleFont":"DejaVu Sans","titleFontWeight":"bold","titleFontSize":17.5,
    "titleX":209.5,"titleY":54,"titleBaseline":"alphabetic","titleAlign":"center"}},
  "y":{"field":"I","type":"quantitative","scale":{"domain":[-20,10],"nice":false,"zero":false},
   "axis":{"values":[-20,-17.5,-15,-12.5,-10,-7.5,-5,-2.5,0,2.5,5,7.5,10],
    "labelExpr":"datum.value == 10 ? '1E-005' : datum.value == 5 ? '5E-006' : datum.value == 0 ? '0' : datum.value == -5 ? '-5E-006' : datum.value == -10 ? '-1E-005' : datum.value == -15 ? '-1.5E-005' : datum.value == -20 ? '-2E-005' : ''",
    "tickSize":{"condition":{"test":"datum.value % 5 === 0","value":12},"value":7},
    "labelPadding":7,"labelFont":"DejaVu Sans","labelFontWeight":"bold","labelFontSize":15,
    "title":"Current (A)","titleFont":"Liberation Sans","titleFontWeight":"bold","titleFontSize":17,
    "titleX":-115,"titleY":137,"titleBaseline":"middle","titleAlign":"center","titleAngle":270}},
  "detail":[{"field":"c","type":"nominal"},{"field":"b","type":"nominal"}]
 }},
{"data":{"values":[{"x0":0,"x1":1000,"y0":-8,"y1":12}]},
 "mark":{"type":"rect","fillOpacity":0,"stroke":"#8c8c8c","strokeWidth":1},
 "encoding":{
  "x":{"field":"x0","type":"quantitative","scale":{"domain":[0,1000],"range":[184,376],"nice":false,"zero":false},"axis":null},
  "x2":{"field":"x1"},
  "y":{"field":"y0","type":"quantitative","scale":{"domain":[-8,12],"range":[357,167],"nice":false,"zero":false},"axis":null},
  "y2":{"field":"y1"}
 }},
{"data":{"name":"inset"},
 "mark":{"type":"line","interpolate":"monotone","stroke":"#222","strokeWidth":0.8},
 "encoding":{
  "x":{"field":"E","type":"quantitative","scale":{"domain":[0,1000],"range":[184,376],"nice":false,"zero":false},
   "axis":{"orient":"bottom","offset":-33,"values":[0,200,400,600,800,1000],"format":"d",
    "labelExpr":"datum.value % 400 === 0 ? datum.label : ''",
    "tickSize":3.5,"labelPadding":7,"labelFont":"DejaVu Sans","labelFontWeight":"bold","labelFontSize":7.7,
    "title":"Potential (mV) vs Ag/AgCl","titleFont":"DejaVu Sans","titleFontWeight":"bold","titleFontSize":9.8,
    "titleX":275,"titleY":27.5,"titleBaseline":"alphabetic","titleAlign":"center"}},
  "y":{"field":"I","type":"quantitative","scale":{"domain":[-8,12],"range":[357,167],"nice":false,"zero":false},
   "axis":{"orient":"left","offset":-184,"values":[-8,-6,-4,-2,0,2,4,6,8,10,12],
    "labelExpr":"datum.value == 12 ? '1.2E-005' : datum.value == 8 ? '8E-006' : datum.value == 4 ? '4E-006' : datum.value == 0 ? '0' : datum.value == -4 ? '-4E-006' : datum.value == -8 ? '-8E-006' : ''",
    "tickSize":3,"labelPadding":6,"labelFont":"DejaVu Sans","labelFontWeight":"bold","labelFontSize":7.7,
    "title":"Current (A)","titleFont":"Liberation Sans","titleFontWeight":"bold","titleFontSize":11,
    "titleX":-56,"titleY":261,"titleBaseline":"middle","titleAlign":"center","titleAngle":270}},
  "detail":{"field":"b","type":"nominal"}
 }}
],
"resolve":{"scale":{"x":"independent","y":"independent"},"axis":{"x":"independent","y":"independent"}}
}
